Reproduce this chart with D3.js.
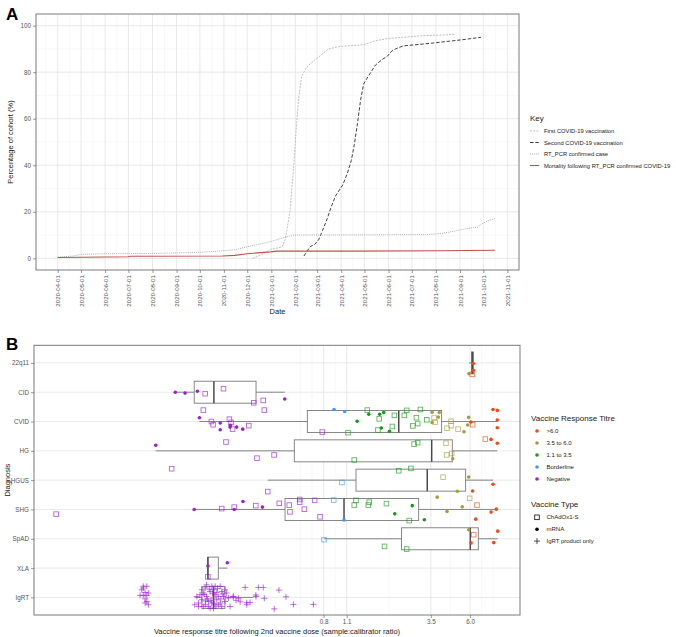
<!DOCTYPE html>
<html><head><meta charset="utf-8">
<script src="https://cdn.jsdelivr.net/npm/d3@7"></script>
<style>body{margin:0;background:#fff} svg{font-family:"Liberation Sans",Arial,sans-serif}</style>
</head><body><svg id="c" width="676" height="637"></svg>
<script>
// ---------------- Panel A data ----------------
const monthTicks = ["2020-04-01","2020-05-01","2020-06-01","2020-07-01","2020-08-01","2020-09-01","2020-10-01","2020-11-01","2020-12-01","2021-01-01","2021-02-01","2021-03-01","2021-04-01","2021-05-01","2021-06-01","2021-07-01","2021-08-01","2021-09-01","2021-10-01","2021-11-01"];
const pctTicks = [0,20,40,60,80,100];
const firstVacc = [["2020-12-08",0],["2020-12-15",1],["2020-12-22",2],["2020-12-31",3.9],["2021-01-10",4.5],["2021-01-15",5],["2021-01-19",8],["2021-01-21",12],["2021-01-25",20],["2021-01-30",40],["2021-02-02",55],["2021-02-05",68],["2021-02-09",78],["2021-02-15",82],["2021-02-25",85],["2021-03-03",86.5],["2021-03-10",88.5],["2021-03-16",90],["2021-03-29",91],["2021-04-30",91.8],["2021-05-15",93.5],["2021-06-01",94.5],["2021-06-20",95],["2021-07-15",95.7],["2021-08-10",96],["2021-08-25",96.3]];
const secondVacc = [["2021-02-12",1],["2021-02-16",3],["2021-02-20",5],["2021-02-26",6],["2021-03-03",8],["2021-03-08",12],["2021-03-14",17],["2021-03-19",22],["2021-03-25",27],["2021-04-03",31.5],["2021-04-09",36.6],["2021-04-14",42],["2021-04-18",49],["2021-04-22",58],["2021-04-26",68],["2021-04-30",75],["2021-05-07",78.8],["2021-05-15",83],["2021-05-24",85.5],["2021-05-30",86.7],["2021-06-05",89],["2021-06-10",90],["2021-06-20",91.3],["2021-07-25",92.4],["2021-09-03",93.9],["2021-09-28",95]];
const rtPcr = [["2020-04-01",0.5],["2020-04-20",1.0],["2020-05-01",1.7],["2020-06-01",2.0],["2020-08-01",2.1],["2020-10-01",2.6],["2020-10-20",3.0],["2020-11-15",3.7],["2020-12-01",5.0],["2020-12-15",6.0],["2020-12-31",7.2],["2021-01-18",9.0],["2021-01-30",10.0],["2021-07-20",10.2],["2021-08-08",10.7],["2021-08-25",11.7],["2021-09-05",12.5],["2021-09-24",13.5],["2021-10-01",15.3],["2021-10-16",17.2]];
const mortality = [["2020-04-01",0.4],["2020-07-01",0.7],["2020-07-03",0.9],["2020-10-30",1.0],["2020-11-15",1.3],["2020-12-01",2.0],["2020-12-31",2.8],["2021-01-08",3.1],["2021-04-15",3.1],["2021-08-10",3.3],["2021-10-16",3.5]];
const seriesNames = ["First COVID-19 vaccination","Second COVID-19 vaccination","RT_PCR confirmed case","Mortality following RT_PCR confirmed COVID-19"];

// ---------------- Panel B data ----------------
const diagnoses = ["22q11","CID","CVID","HG","HGUS","SHG","SpAD","XLA","IgRT"];
const titreBreaks = [0.8,1.1,3.5,6.0];
const titreLabels = ["0.8","1.1","3.5","6.0"];
const titreClasses = [">6.0","3.5 to 6.0","1.1 to 3.5","Borderline","Negative"];
const vaccineTypes = ["ChAdOx1-S","mRNA","IgRT product only"];
// box stats
const boxQ1  = [6.12, 0.135, 0.64, 0.535, 1.25, 0.471, 2.34, 0.163, 0.150];
const boxMed = [6.20, 0.177, 2.25, 3.54, 3.33, 1.06, 6.02, 0.163, 0.176];
const boxQ3  = [6.28, 0.316, 4.06, 4.70, 5.65, 2.96, 6.72, 0.188, 0.206];
const boxLo  = [5.91, 0.104, 0.145, 0.0795, 0.371, 0.135, 0.805, 0.163, 0.136];
const boxHi  = [6.28, 0.469, 8.73, 8.73, 8.23, 8.61, 8.78, 0.213, 0.304];
// points: [value, vaccine type (C=ChAdOx1-S, m=mRNA, I=IgRT), jitter (category units)]
const pts22q11 = [[6.28,"m",0.02],[6.28,"m",0.25],[5.91,"m",0.37],[6.19,"C",0.39]];
const ptsCID = [[0.104,"m",0],[0.119,"m",0.03],[0.141,"m",-0.03],[0.157,"C",0.05],[0.202,"C",-0.12],[0.306,"C",0.36],[0.349,"C",0.28],[0.469,"m",0.23]];
const ptsCVID = [[0.153,"C",-0.39],[0.354,"C",-0.39],[0.145,"m",-0.13],[0.171,"C",0],[0.175,"C",0.11],[0.219,"C",-0.08],[0.224,"C",0.03],[0.193,"m",0.05],[0.193,"m",0.28],[0.221,"m",0.19],[0.222,"m",0.13],[0.229,"C",0.26],[0.242,"m",0.19],[0.263,"m",0.26],[0.286,"C",0.14],[0.786,"C",0.36],
 [0.924,"m",-0.41],[1.07,"m",-0.34],
 [1.12,"C",0.38],[1.27,"m",-0.01],[1.46,"C",-0.39],[1.49,"m",-0.25],[1.69,"C",0.29],[1.72,"C",-0.09],[1.73,"m",-0.25],[1.77,"m",0.22],[1.83,"m",-0.31],[1.98,"m",0.33],[2.06,"C",0.17],[2.12,"C",-0.21],[2.43,"C",-0.21],[2.51,"C",-0.38],[2.73,"C",0.15],[2.87,"C",-0.13],[2.92,"C",0.07],[3.03,"C",-0.41],[3.31,"C",-0.06],
 [3.56,"m",-0.32],[3.56,"m",0.03],[3.66,"C",-0.12],[3.71,"C",0.02],[3.88,"m",-0.15],[3.93,"m",-0.31],[4.37,"C",0.23],[4.62,"C",-0.01],[4.62,"C",0.14],[5.09,"C",0.26],[5.52,"m",0.35],[5.81,"m",0.12],[5.89,"m",-0.14],
 [6.06,"m",0.02],[6.22,"C",0.11],[8.23,"m",-0.41],[8.73,"m",-0.38],[8.73,"m",-0.05],[8.73,"m",0.21]];
const ptsHG = [[0.0795,"m",-0.19],[0.209,"C",-0.3],[0.32,"C",0.25],[0.405,"C",0.14],[1.22,"C",0.31],[2.78,"C",-0.23],[2.92,"C",-0.28],[4.31,"C",-0.26],[4.35,"C",0.14],[4.66,"C",0.09],[4.73,"m",0.27],[7.40,"C",-0.4],[8.01,"m",-0.39],[8.73,"m",-0.26]];
const ptsHGUS = [[0.099,"C",-0.39],[0.371,"C",0.39],[1.03,"C",0.08],[2.25,"C",-0.32],[2.66,"C",-0.4],[4.14,"C",-0.1],[5.89,"m",-0.11],[5.04,"m",0.38],[6.22,"m",0.37],[8.23,"m",0.14]];
const ptsSHG = [[0.0202,"C",0.16],[0.135,"m",0],[0.197,"C",-0.03],[0.234,"C",-0.08],[0.234,"m",0],[0.264,"m",-0.27],[0.315,"C",-0.13],[0.345,"m",-0.08],[0.435,"C",-0.21],[0.499,"C",-0.15],[0.504,"C",0.08],[0.576,"C",-0.34],[0.576,"C",-0.25],[0.614,"C",-0.01],[0.708,"C",-0.31],[0.762,"C",0.25],
 [0.92,"C",-0.32],[1.06,"m",0.36],
 [1.22,"C",-0.15],[1.25,"C",-0.31],[1.48,"C",-0.15],[1.50,"C",-0.25],[1.90,"C",-0.2],[2.13,"m",0.15],[2.60,"C",0.38],[2.71,"m",-0.13],[3.20,"m",0.35],
 [3.82,"m",-0.42],[4.37,"m",0.07],[5.39,"m",-0.09],[5.97,"C",-0.38],
 [6.60,"C",-0.15],[6.49,"m",0.33],[8.01,"m",0.09],[8.61,"m",-0.01]];
const ptsSpAD = [[0.805,"C",0.03],[1.85,"C",0.26],[2.51,"C",0.35],[5.89,"m",-0.31],[6.31,"C",-0.14],[6.08,"m",0.14],[8.31,"m",0.13],[8.78,"m",-0.26]];
const ptsXLA = [[0.163,"m",-0.07],[0.163,"C",0.3],[0.213,"m",-0.18]];
const ptsIgRT = [[0.067,"I",-0.38],[0.0703,"I",-0.38],[0.0656,"I",-0.26],[0.0687,"I",-0.17],[0.0641,"I",-0.07],[0.067,"I",-0.07],[0.0703,"I",-0.07],[0.0718,"I",-0.15],[0.0687,"I",0.05],[0.0703,"I",0.14],[0.0718,"I",0.25],[0.0687,"I",0.19],[0.067,"I",-0.32],
 [0.136,"I",0.25],[0.143,"I",0.19],[0.140,"I",-0.03],[0.150,"I",-0.26],[0.153,"I",-0.15],[0.157,"I",-0.32],[0.160,"I",-0.03],[0.164,"I",0.14],[0.168,"I",-0.2],[0.172,"I",-0.38],[0.176,"I",-0.26],[0.180,"I",-0.09],[0.184,"I",0.08],[0.188,"I",0.25],[0.193,"I",-0.38],[0.197,"I",-0.2],[0.202,"I",-0.03],[0.206,"I",0.14],[0.211,"I",-0.15],[0.216,"I",0.02],[0.221,"I",0.31],[0.150,"I",0.08],[0.157,"I",0.25],[0.164,"I",0.31],[0.172,"I",0.19],[0.176,"I",0.02],[0.180,"I",-0.38],[0.184,"I",-0.17],[0.188,"I",-0.03],[0.193,"I",0.19],[0.168,"I",0.37],[0.160,"I",-0.43],[0.146,"I",-0.09],[0.153,"I",0.31],[0.197,"I",0.31],[0.206,"I",-0.26],[0.231,"I",-0.03],[0.143,"I",0.31],[0.176,"I",0.37],[0.186,"I",-0.3],[0.170,"I",0.1],[0.162,"I",0.05],[0.155,"I",-0.1],[0.178,"I",0.22],[0.195,"I",0.05],[0.200,"I",-0.12],[0.166,"I",-0.28],[0.182,"I",0.3],[0.174,"I",-0.14],[0.158,"I",0.12],
 [0.272,"I",-0.34],[0.326,"I",-0.34],[0.349,"I",-0.34],[0.433,"I",-0.25],[0.315,"I",-0.08],[0.354,"I",0.03],[0.477,"I",-0.02],[0.278,"I",0.18],[0.254,"I",0.15],[0.528,"I",0.24],[0.695,"I",0.24],[0.406,"I",0.39],[0.248,"I",0.03],[0.231,"I",-0.03],[0.291,"I",0.17],[0.316,"I",-0.03],[0.278,"I",0.25],[0.240,"I",0.1]];
const pointsByDiag = [pts22q11, ptsCID, ptsCVID, ptsHG, ptsHGUS, ptsSHG, ptsSpAD, ptsXLA, ptsIgRT];

// ---------------- styles ----------------
const classColors = ["#EE4B16","#A69C3C","#17991A","#3E9CEA","#9B1FD0"];
const gridMajor = "#e6e6e6", gridMinor = "#f3f3f3", axisTextCol = "#555", borderCol = "#7a7a7a", textCol = "#222";
function titreClass(v){ return v > 6.0 ? 0 : v >= 3.5 ? 1 : v >= 1.1 ? 2 : v >= 0.8 ? 3 : 4; }

const svg = d3.select("#c");
svg.append("rect").attr("width",676).attr("height",637).attr("fill","#fff");

// ================= PANEL A =================
const parse = d3.timeParse("%Y-%m-%d");
const A = {l:36, r:519, t:14, b:270};
const xA = d3.scaleTime().domain([parse("2020-03-04"), parse("2021-11-16")]).range([A.l, A.r]);
const yA = d3.scaleLinear().domain([-5,105]).range([A.b, A.t]);
const gA = svg.append("g");
const mDates = monthTicks.map(parse);
const minorX = [];
const ext = [d3.timeMonth.offset(mDates[0],-1), ...mDates, d3.timeMonth.offset(mDates[mDates.length-1],1)];
for (let i=0;i<ext.length-1;i++){ minorX.push(new Date((+ext[i]+ +ext[i+1])/2)); }
gA.selectAll(".mnx").data(minorX.filter(d=>xA(d)>A.l && xA(d)<A.r)).enter().append("line")
  .attr("x1",d=>xA(d)).attr("x2",d=>xA(d)).attr("y1",A.t).attr("y2",A.b).attr("stroke",gridMinor).attr("stroke-width",0.6);
gA.selectAll(".mny").data([10,30,50,70,90]).enter().append("line")
  .attr("x1",A.l).attr("x2",A.r).attr("y1",d=>yA(d)).attr("y2",d=>yA(d)).attr("stroke",gridMinor).attr("stroke-width",0.6);
gA.selectAll(".mjx").data(mDates).enter().append("line")
  .attr("x1",d=>xA(d)).attr("x2",d=>xA(d)).attr("y1",A.t).attr("y2",A.b).attr("stroke",gridMajor).attr("stroke-width",0.9);
gA.selectAll(".mjy").data(pctTicks).enter().append("line")
  .attr("x1",A.l).attr("x2",A.r).attr("y1",d=>yA(d)).attr("y2",d=>yA(d)).attr("stroke",gridMajor).attr("stroke-width",0.9);

const lineA = d3.line().x(d=>xA(parse(d[0]))).y(d=>yA(d[1]));
const seriesA = [
  {data:firstVacc, color:"#b8b8b8", dash:"2,1.2", w:0.9},
  {data:secondVacc, color:"#2e2e2e", dash:"3.5,1.8", w:0.9},
  {data:rtPcr, color:"#9a9a9a", dash:"0.9,1.2", w:0.9},
  {data:mortality, color:"#c0504d", dash:null, w:1.1}
];
seriesA.forEach(s=>{
  gA.append("path").datum(s.data).attr("d",lineA).attr("fill","none").attr("stroke",s.color)
    .attr("stroke-width",s.w).attr("stroke-dasharray",s.dash);
});
gA.append("rect").attr("x",A.l).attr("y",A.t).attr("width",A.r-A.l).attr("height",A.b-A.t)
  .attr("fill","none").attr("stroke",borderCol).attr("stroke-width",1);
const axAx = d3.axisBottom(xA).tickValues(mDates).tickFormat(d3.timeFormat("%Y-%m-%d")).tickSize(3).tickPadding(2);
const gx = gA.append("g").attr("transform",`translate(0,${A.b})`).call(axAx);
gx.select(".domain").remove();
gx.selectAll("line").attr("stroke","#555").attr("stroke-width",0.6);
gx.selectAll("text").attr("fill",axisTextCol).attr("font-size",6.2)
  .attr("transform","rotate(-90)").attr("text-anchor","end").attr("x",-5).attr("y",0).attr("dy","0.33em");
const axAy = d3.axisLeft(yA).tickValues(pctTicks).tickSize(3).tickPadding(2);
const gy = gA.append("g").attr("transform",`translate(${A.l},0)`).call(axAy);
gy.select(".domain").remove();
gy.selectAll("line").attr("stroke","#555").attr("stroke-width",0.6);
gy.selectAll("text").attr("fill",axisTextCol).attr("font-size",6.3);
gA.append("text").attr("x",(A.l+A.r)/2).attr("y",314).attr("text-anchor","middle").attr("font-size",7.5).attr("fill",textCol).text("Date");
gA.append("text").attr("transform",`translate(13,${(A.t+A.b)/2}) rotate(-90)`).attr("text-anchor","middle").attr("font-size",7.5).attr("fill",textCol).text("Percentage of cohort (%)");
gA.append("text").attr("x",530).attr("y",121).attr("font-size",8).attr("fill",textCol).text("Key");
seriesNames.forEach((n,i)=>{
  const y = 131 + i*11.5;
  const s = seriesA[i];
  gA.append("line").attr("x1",530).attr("x2",539).attr("y1",y).attr("y2",y).attr("stroke",s.color)
    .attr("stroke-width",s.w).attr("stroke-dasharray",s.dash);
  gA.append("text").attr("x",544).attr("y",y).attr("dy","0.35em").attr("font-size",5.8).attr("fill",textCol).text(n);
});
gA.append("text").attr("x",6).attr("y",20).attr("font-size",17).attr("font-weight","bold").attr("fill","#000").text("A");

// ================= PANEL B =================
const B = {l:34, r:520, t:345.3, b:615};
const xB = d3.scaleLog().domain([0.0149, 11.93]).range([B.l, B.r]);
const yB = d3.scalePoint().domain(diagnoses).range([B.t, B.b]).padding(0.6);
const step = yB.step();
const gB = svg.append("g");
const lb = titreBreaks.map(Math.log);
const bd = lb[1]-lb[0];
const extB = [lb[0]-bd, ...lb, lb[lb.length-1]+bd];
const minorB = [extB[0], extB[extB.length-1]];
for (let i=0;i<extB.length-1;i++) minorB.push((extB[i]+extB[i+1])/2);
gB.selectAll(".mnb").data(minorB.map(Math.exp)).enter().append("line")
  .attr("x1",d=>xB(d)).attr("x2",d=>xB(d)).attr("y1",B.t).attr("y2",B.b).attr("stroke",gridMinor).attr("stroke-width",0.6);
gB.selectAll(".mjb").data(titreBreaks).enter().append("line")
  .attr("x1",d=>xB(d)).attr("x2",d=>xB(d)).attr("y1",B.t).attr("y2",B.b).attr("stroke",gridMajor).attr("stroke-width",0.9);
gB.selectAll(".mjyb").data(diagnoses).enter().append("line")
  .attr("x1",B.l).attr("x2",B.r).attr("y1",d=>yB(d)).attr("y2",d=>yB(d)).attr("stroke",gridMajor).attr("stroke-width",0.9);
const bh = step*0.75;
diagnoses.forEach((d,i)=>{
  const cy = yB(d);
  const g = gB.append("g");
  g.append("line").attr("x1",xB(boxLo[i])).attr("x2",xB(boxQ1[i])).attr("y1",cy).attr("y2",cy).attr("stroke","#7a7a7a").attr("stroke-width",0.9);
  g.append("line").attr("x1",xB(boxQ3[i])).attr("x2",xB(boxHi[i])).attr("y1",cy).attr("y2",cy).attr("stroke","#7a7a7a").attr("stroke-width",0.9);
  g.append("rect").attr("x",xB(boxQ1[i])).attr("y",cy-bh/2).attr("width",Math.max(0.5,xB(boxQ3[i])-xB(boxQ1[i]))).attr("height",bh)
    .attr("fill","#fff").attr("stroke","#7a7a7a").attr("stroke-width",0.9);
  g.append("line").attr("x1",xB(boxMed[i])).attr("x2",xB(boxMed[i])).attr("y1",cy-bh/2).attr("y2",cy+bh/2).attr("stroke","#4a4a4a").attr("stroke-width",1.5);
});
diagnoses.forEach((d,i)=>{
  const cy = yB(d);
  pointsByDiag[i].forEach(p=>{
    const x = xB(p[0]), y = cy + p[2]*step, col = classColors[titreClass(p[0])];
    if (p[1]==="m") {
      gB.append("circle").attr("cx",x).attr("cy",y).attr("r",1.8).attr("fill",col);
    } else if (p[1]==="C") {
      gB.append("rect").attr("x",x-2.3).attr("y",y-2.3).attr("width",4.6).attr("height",4.6)
        .attr("fill","none").attr("stroke",col).attr("stroke-width",0.9).attr("stroke-opacity",0.7);
    } else {
      gB.append("path").attr("d",`M${x-3},${y}H${x+3}M${x},${y-3}V${y+3}`)
        .attr("stroke",col).attr("stroke-width",0.8).attr("stroke-opacity",0.8);
    }
  });
});
gB.append("rect").attr("x",B.l).attr("y",B.t).attr("width",B.r-B.l).attr("height",B.b-B.t)
  .attr("fill","none").attr("stroke",borderCol).attr("stroke-width",1);
const axBx = d3.axisBottom(xB).tickValues(titreBreaks).tickFormat((d,i)=>titreLabels[i]).tickSize(3).tickPadding(2);
const gbx = gB.append("g").attr("transform",`translate(0,${B.b})`).call(axBx);
gbx.select(".domain").remove();
gbx.selectAll("line").attr("stroke","#555").attr("stroke-width",0.6);
gbx.selectAll("text").attr("fill",axisTextCol).attr("font-size",6.3);
const axBy = d3.axisLeft(yB).tickSize(3).tickPadding(2);
const gby = gB.append("g").attr("transform",`translate(${B.l},0)`).call(axBy);
gby.select(".domain").remove();
gby.selectAll("line").attr("stroke","#555").attr("stroke-width",0.6);
gby.selectAll("text").attr("fill",axisTextCol).attr("font-size",6.3);
gB.append("text").attr("x",(B.l+B.r)/2).attr("y",634).attr("text-anchor","middle").attr("font-size",7.5).attr("fill",textCol)
  .text("Vaccine response titre following 2nd vaccine dose (sample:calibrator ratio)");
gB.append("text").attr("transform",`translate(10,${(B.t+B.b)/2}) rotate(-90)`).attr("text-anchor","middle").attr("font-size",7.5).attr("fill",textCol).text("Diagnosis");
gB.append("text").attr("x",6).attr("y",350).attr("font-size",17).attr("font-weight","bold").attr("fill","#000").text("B");
gB.append("text").attr("x",531).attr("y",421).attr("font-size",8).attr("fill",textCol).text("Vaccine Response Titre");
titreClasses.forEach((n,i)=>{
  const y = 431 + i*12;
  gB.append("circle").attr("cx",537).attr("cy",y).attr("r",1.8).attr("fill",classColors[i]);
  gB.append("text").attr("x",546.5).attr("y",y).attr("dy","0.35em").attr("font-size",6).attr("fill",textCol).text(n);
});
gB.append("text").attr("x",531).attr("y",507).attr("font-size",8).attr("fill",textCol).text("Vaccine Type");
vaccineTypes.forEach((n,i)=>{
  const y = 517.3 + i*11.9;
  if (i===0) gB.append("rect").attr("x",534.7).attr("y",y-2.3).attr("width",4.6).attr("height",4.6).attr("fill","none").attr("stroke","#222").attr("stroke-width",0.9);
  else if (i===1) gB.append("circle").attr("cx",537).attr("cy",y).attr("r",1.8).attr("fill","#000");
  else gB.append("path").attr("d",`M534,${y}H540M537,${y-3}V${y+3}`).attr("stroke","#222").attr("stroke-width",0.8);
  gB.append("text").attr("x",546.5).attr("y",y).attr("dy","0.35em").attr("font-size",6).attr("fill",textCol).text(n);
});
</script></body></html>
